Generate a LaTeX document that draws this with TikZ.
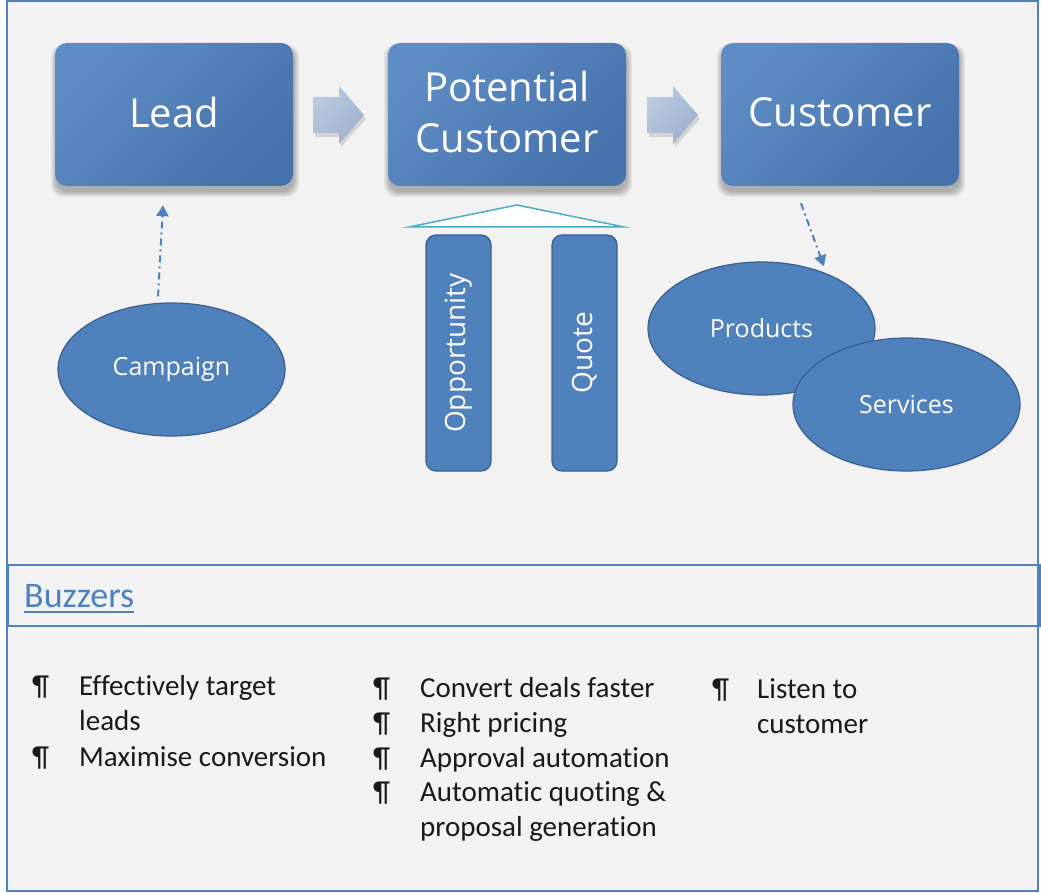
\documentclass[tikz,border=0pt]{standalone}
\usepackage{fontspec}
\setmainfont[Ligatures=CommonOff]{Carlito}
\newfontfamily\osans{Open Sans}
\usetikzlibrary{arrows.meta,calc,shapes.geometric}
\definecolor{bblue}{HTML}{4F81BD}
\definecolor{bborder}{HTML}{3A5F8C}
\definecolor{boxlight}{HTML}{5E8CC4}
\definecolor{boxdark}{HTML}{4672AC}
\definecolor{arrlight}{HTML}{BACADF}
\definecolor{arrdark}{HTML}{9DB0CE}
\definecolor{bg}{HTML}{F2F2F2}
\definecolor{teal}{HTML}{4BACC6}
\definecolor{txt}{HTML}{1A1A1A}
\newcommand\mysoftshadow[5]{% x1 y1 x2 y2 radius
  \foreach \k in {0,...,5}{
    \fill[black, opacity=0.05, rounded corners=#5] (#1-\k+1, #2-\k+6) rectangle (#3+\k+1, #4+\k+6);
  }}
\begin{document}
\begin{tikzpicture}[x=1pt,y=-1pt,
  bigbox/.style={rounded corners=12pt, top color=boxlight, bottom color=boxdark, shading angle=45,
     minimum width=238pt, minimum height=143pt, inner sep=0pt, text=white, align=center,
     text depth=5pt, font=\osans\fontsize{40}{51}\selectfont},
  blockarrow/.style={top color=arrlight, bottom color=arrdark, shading angle=45},
  pillar/.style={rounded corners=10pt, fill=bblue, draw=bborder, line width=1.3pt,
     minimum width=236pt, minimum height=65pt, inner sep=0pt, rotate=90, text=white,
     font=\osans\fontsize{28}{32}\selectfont},
  ell/.style={ellipse, fill=bblue, draw=bborder, line width=1.2pt, minimum width=227pt,
     minimum height=133pt, inner sep=0pt, text=white, font=\osans\fontsize{25}{30}\selectfont},
  dashdot/.style={bblue, line width=2pt, dash pattern=on 7pt off 4pt on 2pt off 4pt,
     -{Triangle[width=12pt,length=11pt]}},
  pil/.style={anchor=base west, inner sep=0pt, text=txt, font=\fontsize{29}{35}\selectfont},
  btxt/.style={anchor=base west, inner sep=0pt, text=txt, font=\fontsize{29}{35}\selectfont}
]
\useasboundingbox (0,0) rectangle (1041,893);
\fill[white] (0,0) rectangle (1041,893);
\draw[bblue, line width=1.5pt, fill=bg] (7,1) rectangle (1038,891);
\draw[bblue, line width=1.5pt] (8,565) rectangle (1040,626);

% shadows
\mysoftshadow{55}{43}{293}{186}{12pt}
\mysoftshadow{388}{43}{626}{186}{12pt}
\mysoftshadow{721}{43}{959}{186}{12pt}

% main boxes
\node[bigbox] (lead) at (174,114.5) {Lead};
\node[bigbox] (pot) at (507,114.5) {Potential\\Customer};
\node[bigbox] (cust) at (840,114.5) {Customer};

% block arrows
\foreach \dx/\nm in {0/a1,334/a2}{
  \begin{scope}[xshift=\dx pt]
  \fill[black, opacity=0.12] (315,101) -- (341,101) -- (341,89) -- (366,119) -- (341,147) -- (341,137) -- (315,137) -- cycle;
  \path[blockarrow] (313,97) -- (339,97) -- (339,86) -- (364,115) -- (339,144) -- (339,133) -- (313,133) -- cycle;
  \end{scope}
}

% triangle over pillars
\draw[teal, line width=1.5pt, fill=white] (409,227) -- (517,205) -- (624,227) -- cycle;

% pillars
\node[pillar] (opp) at (458.5,353) {Opportunity};
\node[pillar] (quote) at (584.5,353) {Quote};

% ellipses
\node[ell] (camp) at (171.5,369.5) {Campaign};
\node[ell] (prod) at (761.5,328.5) {Products};
\node[ell] (serv) at (906.5,404.5) {Services};

% dash-dot connectors
\coordinate (campstart) at ($(camp.north)+(-13.5,-6)$);
\coordinate (leadend) at ($(lead.south)+(-11,19)$);
\draw[dashdot] (campstart) -- (leadend);
\coordinate (custstart) at ($(cust.south)+(-39,17)$);
\coordinate (prodend) at ($(prod.north)+(62.5,5)$);
\draw[dashdot] (custstart) -- (prodend);

% Buzzers
\node[anchor=base west, inner sep=0pt, text=bblue, font=\fontsize{36}{40}\selectfont] (buzz) at (24,607) {Buzzers};
\draw[bblue, line width=1.5pt] ($(buzz.base west)+(0,5)$) -- ($(buzz.base east)+(0,5)$);

% column 1
\node[pil] (p11) at (32,695) {¶};
\node[btxt] (t11) at (79,695) {Effectively target};
\node[btxt] (t12) at (79,730) {leads};
\node[pil] (p13) at (32,766) {¶};
\node[btxt] (t13) at (79,766) {Maximise conversion};

% column 2
\node[pil] (p21) at (373,697) {¶};
\node[btxt] (t21) at (420,697) {Convert deals faster};
\node[pil] (p22) at (373,732) {¶};
\node[btxt] (t22) at (420,732) {Right pricing};
\node[pil] (p23) at (373,767) {¶};
\node[btxt] (t23) at (420,767) {Approval automation};
\node[pil] (p24) at (373,801) {¶};
\node[btxt] (t24) at (420,801) {Automatic quoting \&};
\node[btxt] (t25) at (420,836) {proposal generation};

% column 3
\node[pil] (p31) at (712,698) {¶};
\node[btxt] (t31) at (757,698) {Listen to};
\node[btxt] (t32) at (757,733) {customer};
\end{tikzpicture}
\end{document}
